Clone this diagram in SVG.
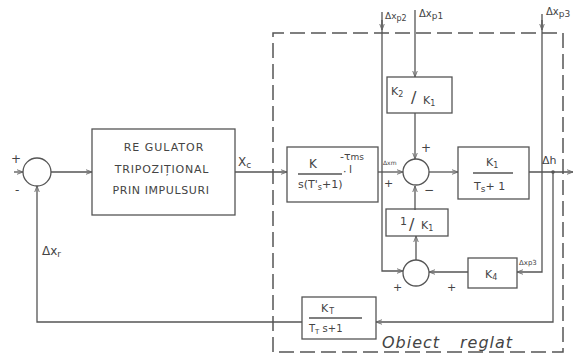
<svg xmlns="http://www.w3.org/2000/svg" width="575" height="358" viewBox="0 0 575 358">
<defs>
<marker id="arr" viewBox="0 0 8 8" refX="8" refY="4" markerWidth="6" markerHeight="6" orient="auto" markerUnits="userSpaceOnUse">
<path d="M0,1 L8,4 L0,7" fill="none" stroke="#666" stroke-width="1.2"/>
</marker>
</defs>
<style>
.ln{fill:none;stroke:#555;stroke-width:1.3}
.bx{fill:none;stroke:#555;stroke-width:1.3}
.ds{fill:none;stroke:#555;stroke-width:1.5;stroke-dasharray:15 6}
.t{font-family:"DejaVu Sans","Liberation Sans",sans-serif;fill:#444}
.s{font-size:11px}
.m{font-size:12px}
.sm{font-size:8px}
</style>
<rect width="575" height="358" fill="#fff"/>
<g id="dashed-boundary">
<path class="ds" d="M273,352 V33 H563 V352 H273"/>
<text class="t" x="382" y="348" font-size="16" font-style="italic" letter-spacing="1">Obiect</text>
<text class="t" x="460" y="348" font-size="16" font-style="italic" letter-spacing="1">reglat</text>
</g>
<g id="connectors">
<path class="ln" d="M51,172 H92" marker-end="url(#arr)"/>
<path class="ln" d="M14,172 H23" marker-end="url(#arr)"/>
<path class="ln" d="M235,172 H287" marker-end="url(#arr)"/>
<path class="ln" d="M378,172 H403" marker-end="url(#arr)"/>
<path class="ln" d="M429,172 H458" marker-end="url(#arr)"/>
<path class="ln" d="M529,172 H573" marker-end="url(#arr)"/>
<path class="ln" d="M382,12 V271 H403" marker-end="url(#arr)"/>
<path class="ln" d="M382,20 V30" marker-end="url(#arr)"/>
<path class="ln" d="M415,10 V77" marker-end="url(#arr)"/>
<path class="ln" d="M415,113 V159" marker-end="url(#arr)"/>
<path class="ln" d="M415,210 V186" marker-end="url(#arr)"/>
<path class="ln" d="M416,260 V236" marker-end="url(#arr)"/>
<path class="ln" d="M468,272 H429" marker-end="url(#arr)"/>
<path class="ln" d="M542,14 V272 H517" marker-end="url(#arr)"/>
<path class="ln" d="M542,20 V30" marker-end="url(#arr)"/>
<path class="ln" d="M553,172 V322 H376" marker-end="url(#arr)"/>
<path class="ln" d="M302,322 H37 V186"  marker-end="url(#arr)"/>
<circle cx="553" cy="172" r="1.8" fill="#555"/>
</g>
<g id="sum1">
<circle class="bx" cx="37" cy="172" r="14"/>
<text class="t m" x="11" y="163">+</text>
<text class="t m" x="15" y="194">-</text>
</g>
<g id="regulator">
<rect class="bx" x="92" y="129" width="143" height="86"/>
<text class="t s" x="164" y="151" text-anchor="middle" letter-spacing="1">RE GULATOR</text>
<text class="t s" x="162" y="173" text-anchor="middle" letter-spacing="0.8">TRIPOZIȚIONAL</text>
<text class="t s" x="161" y="194" text-anchor="middle" letter-spacing="0.6">PRIN  IMPULSURI</text>
<text class="t m" x="238" y="166">X<tspan font-size="9" dy="2">c</tspan></text>
</g>
<g id="plant1">
<rect class="bx" x="287" y="147" width="91" height="55"/>
<text class="t m" x="309" y="168">K</text>
<text class="t s" x="340" y="160">-τ<tspan font-size="9">ms</tspan></text>
<line class="ln" x1="298" y1="174" x2="342" y2="174"/>
<text class="t s" x="298" y="188">s(T'<tspan font-size="8" dy="2">s</tspan><tspan dy="-2">+1)</tspan></text>
<text class="t s" x="343" y="175">·</text>
<text class="t s" x="349" y="173">l</text>
<text class="t" x="383" y="165" font-size="6">Δxm</text>
<text class="t s" x="384" y="187">+</text>
</g>
<g id="sum2">
<circle class="bx" cx="416" cy="172" r="13"/>
<text class="t m" x="421" y="152">+</text>
<text class="t m" x="424" y="194">−</text>
</g>
<g id="k2k1">
<rect class="bx" x="387" y="77" width="65" height="36"/>
<text class="t s" x="391" y="95">K<tspan font-size="8" dy="2">2</tspan></text>
<text class="t" x="411" y="103" font-size="16">/</text>
<text class="t s" x="423" y="104">K<tspan font-size="8" dy="2">1</tspan></text>
</g>
<g id="k1box">
<rect class="bx" x="458" y="147" width="71" height="52"/>
<text class="t s" x="486" y="166">K<tspan font-size="8" dy="2">1</tspan></text>
<line class="ln" x1="473" y1="173" x2="513" y2="173"/>
<text class="t s" x="474" y="190">T<tspan font-size="9" dy="2">s</tspan><tspan dy="-2">+ 1</tspan></text>
<text class="t s" x="542" y="164">Δh</text>
</g>
<g id="inv-k1">
<rect class="bx" x="386" y="209" width="62" height="27"/>
<text class="t s" x="400" y="225">1</text>
<text class="t" x="409" y="230" font-size="16">/</text>
<text class="t s" x="421" y="229">K<tspan font-size="8" dy="2">1</tspan></text>
</g>
<g id="sum3">
<circle class="bx" cx="416" cy="273" r="13"/>
<text class="t s" x="393" y="291">+</text>
<text class="t s" x="447" y="291">+</text>
</g>
<g id="k4">
<rect class="bx" x="468" y="258" width="49" height="30"/>
<text class="t s" x="485" y="278">K<tspan font-size="8" dy="2">4</tspan></text>
<text class="t" x="519" y="265" font-size="7">Δxp3</text>
</g>
<g id="kt">
<rect class="bx" x="302" y="297" width="74" height="42"/>
<text class="t s" x="321" y="312">K<tspan font-size="8" dx="1" dy="2">T</tspan></text>
<line class="ln" x1="309" y1="318" x2="362" y2="318"/>
<text class="t" x="309" y="332" font-size="10">T<tspan font-size="7" dy="2">T</tspan><tspan dy="-2"> s+1</tspan></text>
</g>
<g id="labels">
<text class="t" x="385" y="19" font-size="9">Δx<tspan font-size="8" dy="2">p2</tspan></text>
<text class="t" x="419" y="17" font-size="10">Δx<tspan font-size="9" dy="2">p1</tspan></text>
<text class="t" x="546" y="15" font-size="10">Δx<tspan font-size="9" dy="2">p3</tspan></text>
<text class="t m" x="42" y="255">Δx<tspan font-size="9" dy="2">r</tspan></text>
</g>
</svg>
